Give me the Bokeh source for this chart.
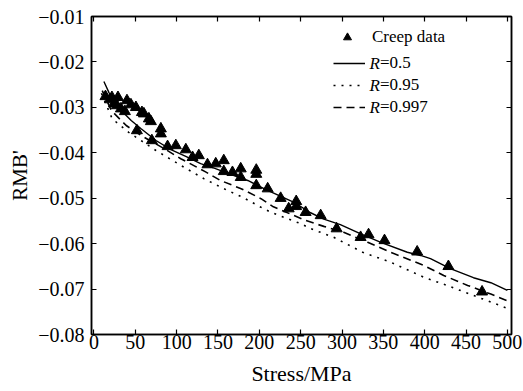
from bokeh.plotting import figure
from bokeh.models import (Legend, LegendItem, LinearAxis, FixedTicker, Label, Range1d,
                          CustomLabelingPolicy)
from bokeh.embed import file_html
from bokeh.resources import INLINE

FONT = "'Liberation Serif', 'Times New Roman', serif"

# ---- data ----
creep_stress = [13.9, 19.3, 21.7, 29.0, 24.2, 27.8, 32.6, 37.4, 39.9, 44.7, 50.7, 58.0, 60.4,
                66.4, 68.8, 51.9, 70.0, 80.9, 80.9, 89.0, 99.0, 111.1, 119.2, 126.8, 137.3,
                147.3, 157.0, 157.0, 167.5, 177.5, 177.5, 196.3, 196.3, 196.3, 210.1, 225.8,
                235.5, 244.6, 244.6, 256.0, 274.2, 293.5, 322.5, 332.1, 351.4, 390.9, 428.7, 469.4]
creep_rmb = [-0.0276, -0.0283, -0.0278, -0.0278, -0.0292, -0.0296, -0.0303, -0.0309, -0.0285,
             -0.0294, -0.0300, -0.0311, -0.0314, -0.0325, -0.0331, -0.0351, -0.0373, -0.0347,
             -0.0358, -0.0386, -0.0384, -0.0393, -0.0410, -0.0406, -0.0426, -0.0424, -0.0417,
             -0.0441, -0.0443, -0.0435, -0.0454, -0.0438, -0.0447, -0.0472, -0.0479, -0.0500,
             -0.0523, -0.0507, -0.0518, -0.0531, -0.0538, -0.0567, -0.0586, -0.0580, -0.0593,
             -0.0618, -0.0650, -0.0706]

r05_stress = [12, 18, 24, 33, 45, 57, 75, 93, 111, 129, 147, 166, 186, 208, 226, 242, 262, 278,
              298, 322, 347, 379, 395, 407, 431, 459, 480, 500]
r05_rmb = [-0.0243, -0.0267, -0.0287, -0.0307, -0.0329, -0.0347, -0.0373, -0.0393, -0.0408,
           -0.0424, -0.0435, -0.0448, -0.0461, -0.0481, -0.0496, -0.0509, -0.0532, -0.0546,
           -0.0558, -0.0578, -0.0597, -0.0619, -0.0626, -0.0633, -0.0655, -0.0675, -0.0686, -0.0703]

r095_stress = [9, 22, 42, 75, 109, 133, 157, 180, 202, 214, 250, 262, 290, 325, 359, 399, 427, 459, 498]
r095_rmb = [-0.0269, -0.0325, -0.0355, -0.0395, -0.0432, -0.0457, -0.0479, -0.0498, -0.0520,
            -0.0531, -0.0556, -0.0567, -0.0586, -0.0619, -0.0641, -0.0674, -0.0692, -0.0714, -0.0741]

r0997_stress = [10, 21, 39, 57, 85, 105, 135, 153, 178, 202, 217, 256, 278, 302, 331, 359, 399,
                423, 452, 480, 499]
r0997_rmb = [-0.0263, -0.0307, -0.0340, -0.0362, -0.0391, -0.0413, -0.0442, -0.0461, -0.0479,
             -0.0501, -0.0519, -0.0549, -0.0562, -0.0575, -0.0597, -0.0619, -0.0648, -0.0670,
             -0.0692, -0.0711, -0.0725]

x_ticks = [0, 50, 100, 150, 200, 250, 300, 350, 400, 450, 500]
y_ticks = [-0.08, -0.07, -0.06, -0.05, -0.04, -0.03, -0.02, -0.01]
y_tick_labels = ["\u22120.08", "\u22120.07", "\u22120.06", "\u22120.05",
                 "\u22120.04", "\u22120.03", "\u22120.02", "\u22120.01"]
legend_labels = ["Creep data", "=0.5", "=0.95", "=0.997"]

# ---- figure ----
p = figure(width=523, height=391, output_backend="svg", toolbar_location=None,
           x_range=Range1d(-3, 505), y_range=Range1d(-0.08, -0.01),
           min_border_left=91, min_border_right=12, min_border_top=16, min_border_bottom=57)
p.xgrid.visible = False
p.ygrid.visible = False
p.outline_line_color = "black"
p.outline_line_width = 1.5
p.background_fill_color = "white"
p.border_fill_color = "white"

NO_LABELS = """
const out = indices.clone ? indices.clone() : indices;
for (const i of Array.from(indices)) { out.unset(i); }
return out;
"""

def style_axis(ax, show_labels):
    ax.major_tick_in = 5
    ax.major_tick_out = 0
    ax.minor_tick_line_color = None
    ax.axis_line_color = "black"
    ax.axis_line_width = 1.5
    ax.major_tick_line_color = "black"
    ax.major_tick_line_width = 1.2
    ax.major_label_text_font = FONT
    ax.major_label_text_color = "black"
    ax.axis_label_text_font = FONT
    ax.axis_label_text_font_style = "normal"
    ax.axis_label_text_color = "black"
    if not show_labels:
        ax.major_label_text_font_size = "1px"
        ax.major_label_standoff = 0
        ax.major_label_policy = CustomLabelingPolicy(code=NO_LABELS)

xa = p.xaxis[0]
xa.ticker = FixedTicker(ticks=x_ticks)
style_axis(xa, True)
xa.major_label_text_font_size = "20px"
xa.major_label_standoff = 0
xa.axis_label = "Stress/MPa"
xa.axis_label_text_font_size = "22px"
xa.axis_label_standoff = 9

ya = p.yaxis[0]
ya.ticker = FixedTicker(ticks=y_ticks)
ya.major_label_overrides = dict(zip(y_ticks, y_tick_labels))
style_axis(ya, True)
ya.major_label_text_font_size = "20px"
ya.major_label_standoff = 7
ya.axis_label = "RMB'"
ya.axis_label_text_font_size = "21px"
ya.axis_label_standoff = 3

top = LinearAxis(ticker=FixedTicker(ticks=x_ticks))
style_axis(top, False)
p.add_layout(top, "above")
right = LinearAxis(ticker=FixedTicker(ticks=y_ticks))
style_axis(right, False)
p.add_layout(right, "right")

# ---- glyphs ----
l1 = p.line(r05_stress, r05_rmb, line_color="black", line_width=1.4)
l2 = p.line(r095_stress, r095_rmb, line_color="black", line_width=1.6, line_dash="2 6")
l3 = p.line(r0997_stress, r0997_rmb, line_color="black", line_width=1.6, line_dash="8 5")
sc = p.scatter(creep_stress, creep_rmb, marker="triangle", size=11,
               fill_color="black", line_color="black")

# ---- legend ----
common = dict(glyph_width=32, glyph_height=20, label_height=20, padding=0, margin=0,
              border_line_color=None, background_fill_alpha=0, label_text_font=FONT,
              label_text_font_size="17px", label_text_color="black")
legA = Legend(items=[LegendItem(label=legend_labels[0], renderers=[sc])],
              location=(240, 287), label_standoff=9, **common)
legB = Legend(items=[LegendItem(label=legend_labels[1], renderers=[l1]),
                     LegendItem(label=legend_labels[2], renderers=[l2]),
                     LegendItem(label=legend_labels[3], renderers=[l3])],
              location=(242, 217), label_standoff=15, spacing=2, **common)
p.add_layout(legA)
p.add_layout(legB)

for yy in [271, 249, 227]:
    p.add_layout(Label(x=278, y=yy, x_units="screen", y_units="screen", text="R",
                       text_font=FONT, text_font_style="italic", text_font_size="17px",
                       text_baseline="middle", text_color="black"))

open("out.html", "w").write(file_html(p, INLINE))
